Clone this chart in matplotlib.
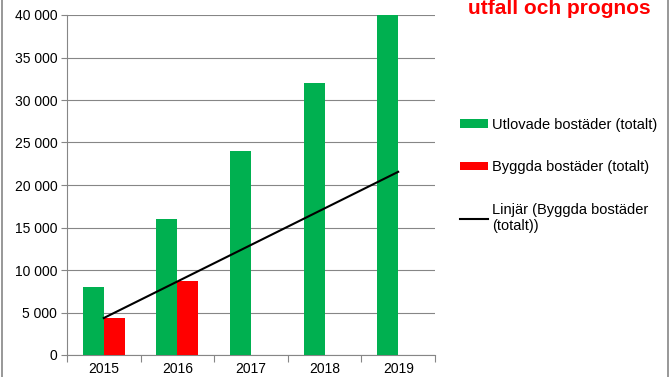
import numpy as np
import matplotlib.pyplot as plt
from matplotlib.patches import Rectangle

plt.rcParams['font.family'] = ['Liberation Sans', 'DejaVu Sans']

# Data
aar = ["2015", "2016", "2017", "2018", "2019"]
utlovade = [8000, 16000, 24000, 32000, 40000]
byggda = [4350, 8650]

gron = "#00B050"
rod = "#FF0000"
gra = "#868686"

fig = plt.figure(figsize=(6.72, 3.77), dpi=100)
ax = fig.add_axes([67/672, 1 - 355/377, 368/672, 340/377])

x = np.arange(len(aar))
bw = 0.285
h1 = ax.bar(x - bw/2, utlovade, bw, color=gron, label="Utlovade bostäder (totalt)", zorder=3)
xb = np.arange(len(byggda))
h2 = ax.bar(xb + bw/2, byggda, bw, color=rod, label="Byggda bostäder (totalt)", zorder=3)

# linjär trend av byggda
k, m = np.polyfit(xb, byggda, 1)
h3, = ax.plot(x, k*x + m, color="black", lw=1.5, zorder=4,
              label="Linjär (Byggda bostäder\n(totalt))")

ax.set_xlim(-0.5, len(aar) - 0.5)
ax.set_ylim(0, 40000)
ax.set_yticks(np.arange(0, 40001, 5000))
ax.set_yticklabels([f"{v:,}".replace(",", " ") for v in range(0, 40001, 5000)])
ax.set_xticks(x)
ax.set_xticklabels(aar)
ax.set_xticks(np.arange(-0.5, len(aar)), minor=True)
ax.tick_params(axis="x", which="major", length=0, pad=5, labelsize=10)
ax.tick_params(axis="x", which="minor", length=5, color=gra, width=0.8)
ax.tick_params(axis="y", length=4, color=gra, width=0.8, labelsize=10, pad=3)
ax.grid(axis="y", color=gra, lw=0.8, zorder=0)
for s in ["top", "right"]:
    ax.spines[s].set_visible(False)
for s in ["left", "bottom"]:
    ax.spines[s].set_color(gra)
    ax.spines[s].set_linewidth(0.8)

# ram runt diagrammet
fig.patches.append(Rectangle((2/672, -0.1), 666/672, 1.2, transform=fig.transFigure,
                             fill=False, edgecolor=gra, lw=1.2, clip_on=False))

fig.text(468/672, 1 - 9/377, "utfall och prognos", color=rod, fontsize=15,
         fontweight="bold", ha="left", va="center")

leg = fig.legend(handles=[h1, h2, h3], loc="upper left",
                 bbox_to_anchor=(454/672, 1 - 112/377),
                 frameon=False, fontsize=10.5, handlelength=1.9, handleheight=0.5,
                 handletextpad=0.3, labelspacing=1.95, borderaxespad=0)

fig.savefig("out.png", dpi=100)
